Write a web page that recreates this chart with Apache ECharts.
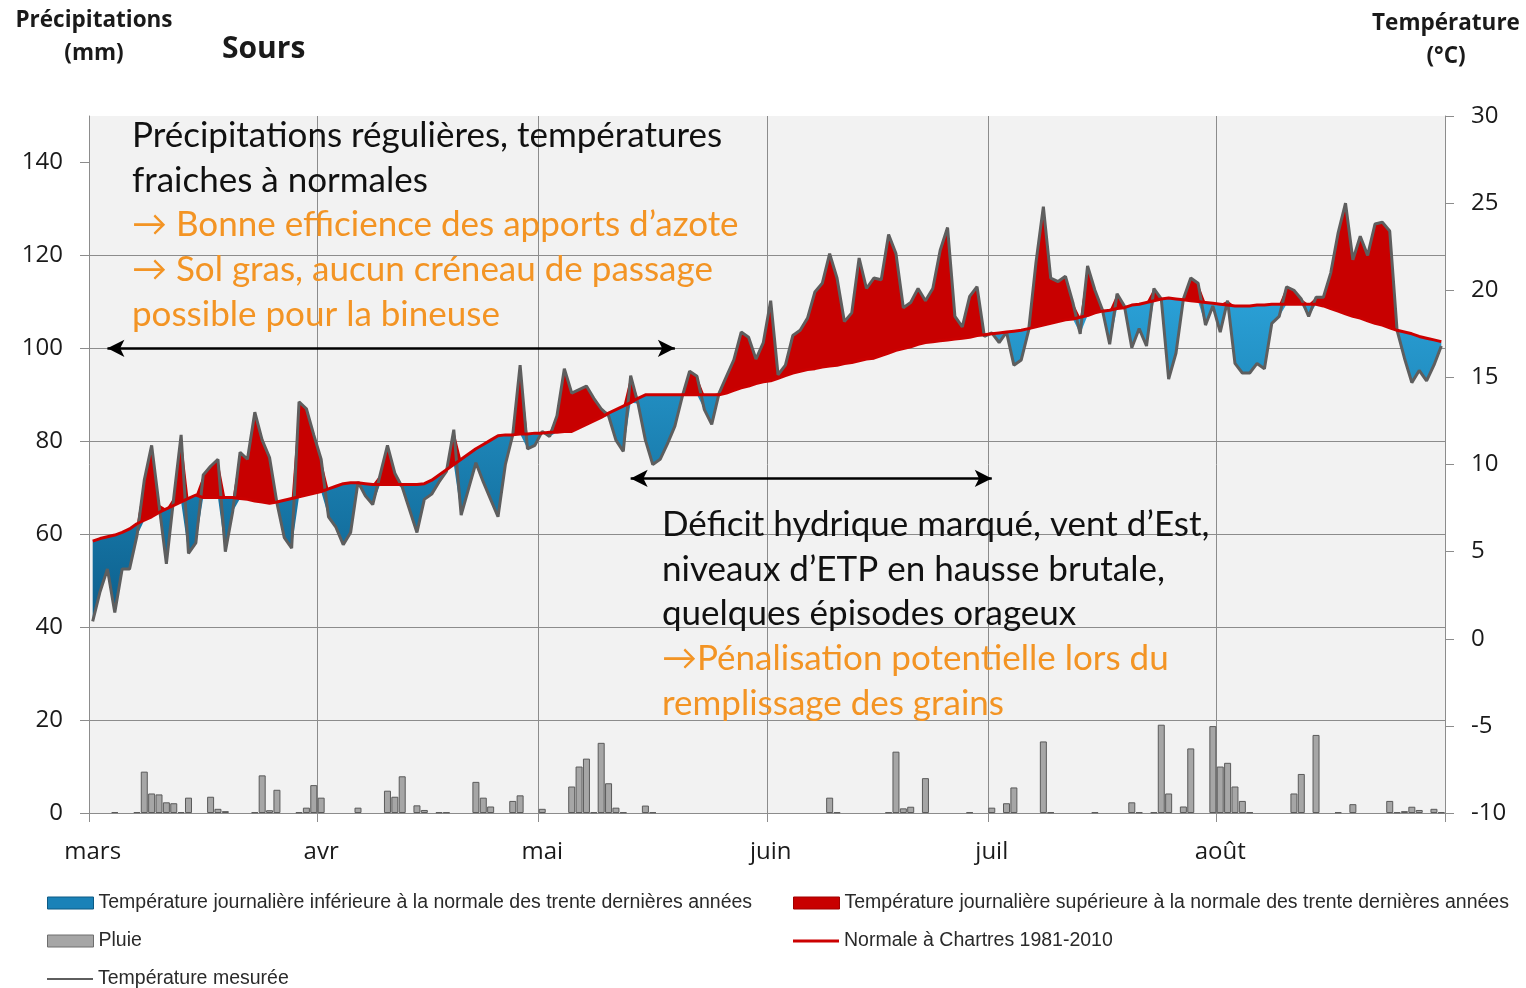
<!DOCTYPE html>
<html>
<head>
<meta charset="utf-8">
<script src="https://cdn.jsdelivr.net/npm/echarts@6/dist/echarts.min.js"></script>
<style>
  html, body { margin: 0; padding: 0; background: #ffffff; }
  #chart { width: 1526px; height: 988px; }
</style>
</head>
<body>
<div id="chart"></div>
<script>
// Day index 0 = 1 March, 183 = 31 August
const monthStarts = [0, 31, 61, 92, 122, 153];
const monthLabels = ['mars', 'avr', 'mai', 'juin', 'juil', 'août'];
const dayCount = 184;
const precipTicks = [0, 20, 40, 60, 80, 100, 120, 140];

// Daily measured mean temperature (°C)
const measured = [
  1.0, 2.7, 4.0, 1.5, 4.0, 4.0, 5.9, 9.1, 11.1, 7.7,
  4.3, 8.1, 11.7, 4.9, 5.5, 9.4, 9.9, 10.3, 5.0, 7.3,
  10.7, 10.3, 13.0, 11.4, 10.4, 7.8, 5.8, 5.2, 13.6, 13.2,
  11.7, 10.3, 7.0, 6.4, 5.4, 6.1, 9.0, 8.2, 7.7, 9.4,
  11.1, 9.5, 8.7, 7.4, 6.1, 8.0, 8.3, 9.0, 9.6, 12.0,
  7.1, 8.6, 10.1, 9.0, 8.0, 7.0, 10.0, 11.7, 15.7, 10.9,
  11.1, 11.9, 11.6, 12.8, 15.5, 14.1, 14.3, 14.5, 13.8, 13.2,
  12.8, 11.4, 10.75, 15.1, 13.5, 11.4, 10.0, 10.3, 11.2, 12.2,
  13.9, 15.35, 15.06, 13.15, 12.3, 14.1, 15.06, 16.0, 17.6, 17.3,
  16.05, 17.0, 19.4, 15.15, 15.7, 17.4, 17.7, 18.4, 19.9, 20.4,
  22.1, 20.7, 18.2, 18.7, 21.85, 20.1, 20.7, 20.6, 23.2, 22.1,
  19.0, 19.3, 20.1, 19.4, 20.1, 22.3, 23.6, 18.5, 17.9, 19.65,
  20.2, 17.35, 17.55, 17.0, 17.6, 15.7, 16.0, 17.7, 21.6, 24.8,
  20.7, 20.5, 20.8, 19.3, 17.5, 21.4, 20.0, 18.9, 16.9, 19.8,
  19.1, 16.7, 17.8, 16.8, 20.1, 19.5, 14.9, 16.4, 19.5, 20.7,
  20.4, 18.0, 19.1, 17.6, 19.4, 15.8, 15.25, 15.25, 15.8, 15.5,
  18.1, 18.5, 20.2, 20.0, 19.5, 18.5, 19.6, 19.6, 21.0, 23.3,
  25.0, 21.75, 23.1, 22.0, 23.8, 23.9, 23.4, 17.7, 16.1, 14.7,
  15.4, 14.8, 15.7, 16.8
];

// Daily normal temperature, Chartres 1981-2010 (°C)
const normal = [
  5.6, 5.75, 5.85, 5.95, 6.1, 6.3, 6.6, 6.8, 7.0, 7.25,
  7.45, 7.65, 7.85, 8.05, 8.25, 8.1, 8.1, 8.1, 8.1, 8.1,
  8.05, 8.0, 7.9, 7.85, 7.77, 7.85, 7.95, 8.05, 8.15, 8.25,
  8.35, 8.45, 8.6, 8.75, 8.9, 8.95, 8.95, 8.9, 8.85, 8.85,
  8.85, 8.85, 8.85, 8.85, 8.85, 8.9, 9.1, 9.4, 9.7, 10.0,
  10.3, 10.6, 10.9, 11.15, 11.4, 11.65, 11.7, 11.7, 11.75, 11.75,
  11.8, 11.8, 11.85, 11.85, 11.9, 11.9, 12.1, 12.3, 12.5, 12.7,
  12.95, 13.15, 13.35, 13.55, 13.8, 14.0, 14.0, 14.0, 14.0, 14.0,
  14.0, 14.0, 14.0, 14.0, 14.0, 14.0, 14.1, 14.25, 14.4, 14.5,
  14.65, 14.75, 14.8, 14.95, 15.1, 15.25, 15.35, 15.45, 15.5, 15.6,
  15.65, 15.7, 15.8, 15.85, 15.95, 16.05, 16.1, 16.25, 16.4, 16.55,
  16.65, 16.75, 16.9, 17.0, 17.05, 17.1, 17.15, 17.2, 17.25, 17.3,
  17.4, 17.45, 17.5, 17.55, 17.6, 17.65, 17.7, 17.8, 17.9, 18.0,
  18.1, 18.2, 18.3, 18.35, 18.45, 18.55, 18.7, 18.8, 18.85, 18.95,
  19.0, 19.15, 19.2, 19.3, 19.4, 19.5, 19.55, 19.5, 19.45, 19.4,
  19.35, 19.3, 19.25, 19.2, 19.15, 19.1, 19.1, 19.1, 19.15, 19.15,
  19.2, 19.2, 19.2, 19.2, 19.2, 19.2, 19.2, 19.1, 18.95, 18.8,
  18.65, 18.5, 18.4, 18.25, 18.1, 18.0, 17.85, 17.7, 17.6, 17.5,
  17.35, 17.25, 17.15, 17.05
];

// Daily rainfall (mm)
const rain = [
  0, 0, 0, 0.2, 0, 0, 0.2, 8.9, 4.2, 4.0,
  2.3, 2.1, 0.2, 3.3, 0, 0, 3.5, 0.9, 0.4, 0,
  0, 0, 0.15, 8.1, 0.6, 5.0, 0, 0, 0.15, 1.15,
  6.0, 3.3, 0, 0, 0, 0, 1.15, 0, 0, 0,
  4.8, 3.5, 7.9, 0, 1.65, 0.65, 0, 0.15, 0.15, 0,
  0, 0, 6.7, 3.3, 1.4, 0, 0, 2.6, 3.8, 0,
  0, 0.9, 0, 0, 0, 5.7, 10.0, 11.7, 0.15, 15.1,
  6.4, 1.15, 0.15, 0, 0, 1.6, 0.15, 0, 0, 0,
  0, 0, 0, 0, 0, 0, 0, 0, 0, 0,
  0, 0, 0, 0, 0, 0, 0, 0, 0, 0,
  3.3, 0.15, 0, 0, 0, 0, 0, 0, 0.15, 13.2,
  1.0, 1.35, 0, 7.5, 0, 0, 0, 0, 0, 0.15,
  0, 0, 1.15, 0, 2.1, 5.5, 0, 0, 0, 15.4,
  0.15, 0, 0, 0, 0, 0, 0.15, 0, 0, 0,
  0, 2.3, 0.15, 0, 0.15, 19.0, 4.2, 0, 1.4, 13.9,
  0, 0, 18.7, 10.0, 10.8, 5.7, 2.6, 0.15, 0, 0,
  0, 0, 0, 4.2, 8.4, 0, 16.8, 0, 0, 0.15,
  0, 1.9, 0, 0, 0, 0, 2.6, 0.15, 0.4, 1.35,
  0.65, 0, 0.9, 0.15
];

// Periods marked with double arrows: [first day, last day, height in mm]
const periods = [
  [2, 79, 100],
  [73, 122, 72]
];

const nameCool = 'Température journalière inférieure à la normale des trente dernières années';
const nameWarm = 'Température journalière supérieure à la normale des trente dernières années';
const nameRain = 'Pluie';
const nameNormal = 'Normale à Chartres 1981-2010';
const nameMeasured = 'Température mesurée';

const ORANGE = '#f39424';
const notesTop = [
  ['Précipitations régulières, températures', '#111111'],
  ['fraiches à normales', '#111111'],
  ['\u2192 Bonne efficience des apports d\u2019azote', ORANGE],
  ['\u2192 Sol gras, aucun créneau de passage', ORANGE],
  ['possible pour la bineuse', ORANGE]
];
const notesBottom = [
  ['Déficit hydrique marqué, vent d\u2019Est,', '#111111'],
  ['niveaux d\u2019ETP en hausse brutale,', '#111111'],
  ['quelques épisodes orageux', '#111111'],
  ['\u2192Pénalisation potentielle lors du', ORANGE],
  ['remplissage des grains', ORANGE]
];

// Category per day, labelled by month at each month start
const days = [];
for (let d = 0; d < dayCount; d++) {
  let m = 0;
  while (m + 1 < monthStarts.length && d >= monthStarts[m + 1]) m++;
  days.push((d - monthStarts[m] + 1) + ' ' + monthLabels[m]);
}
const isMonthStart = (i) => monthStarts.indexOf(i) >= 0;

// Stacked layers: invisible floor, then the gap below or above the normal
const lowerEnvelope = measured.map((t, d) => Math.min(t, normal[d]));
const coolGap = measured.map((t, d) => Math.max(normal[d] - t, 0));
const warmGap = measured.map((t, d) => Math.max(t - normal[d], 0));
const rainBars = rain.map(v => (v > 0 ? v : '-'));

const FONT = 'Lato, "Open Sans", sans-serif';
const AXIS_FONT = '"Open Sans", Lato, sans-serif';
const LEGEND_FONT = '"Liberation Sans", Arial, sans-serif';
const GRID_COLOR = '#8c8c8c';

const chart = echarts.init(document.getElementById('chart'), null, { renderer: 'canvas' });

const textGraphics = [];
notesTop.forEach((n, i) => {
  textGraphics.push({
    type: 'text', x: 132, y: 135.5 + i * 44.8, z: 20,
    style: { text: n[0], fill: n[1], font: '35px ' + FONT, verticalAlign: 'middle', align: 'left' }
  });
});
notesBottom.forEach((n, i) => {
  textGraphics.push({
    type: 'text', x: 662, y: 524.5 + i * 44.8, z: 20,
    style: { text: n[0], fill: n[1], font: '35px ' + FONT, verticalAlign: 'middle', align: 'left' }
  });
});
const TITLE_FONT = 'bold 22.5px "Open Sans", Lato, sans-serif';
textGraphics.push(
  { type: 'text', x: 94, y: 21, style: { text: 'Précipitations', fill: '#1a1a1a', font: TITLE_FONT, align: 'center', verticalAlign: 'middle' } },
  { type: 'text', x: 94, y: 54, style: { text: '(mm)', fill: '#1a1a1a', font: TITLE_FONT, align: 'center', verticalAlign: 'middle' } },
  { type: 'text', x: 222, y: 49, style: { text: 'Sours', fill: '#1a1a1a', font: 'bold 30px "Open Sans", Lato, sans-serif', align: 'left', verticalAlign: 'middle' } },
  { type: 'text', x: 1446, y: 24, style: { text: 'Température', fill: '#1a1a1a', font: TITLE_FONT, align: 'center', verticalAlign: 'middle' } },
  { type: 'text', x: 1446, y: 57, style: { text: '(°C)', fill: '#1a1a1a', font: TITLE_FONT, align: 'center', verticalAlign: 'middle' } }
);

const legendBase = {
  orient: 'horizontal', padding: 0, itemGap: 0, itemWidth: 46, itemHeight: 12,
  selectedMode: false,
  textStyle: { fontFamily: LEGEND_FONT, fontSize: 19.5, color: '#2a2a2a' }
};

const blueFill = new echarts.graphic.LinearGradient(0, 0, 0, 1, [
  { offset: 0, color: '#2aa0d6' },
  { offset: 1, color: '#0c5f8c' }
]);

chart.setOption({
  animation: false,
  backgroundColor: '#ffffff',
  grid: {
    left: 89, right: 81, top: 116, bottom: 175,
    show: true, backgroundColor: '#f2f2f2', borderWidth: 0
  },
  xAxis: {
    type: 'category', data: days, boundaryGap: true,
    axisLine: { show: true, lineStyle: { color: GRID_COLOR, width: 1 } },
    axisTick: { show: true, length: 9, interval: (i) => isMonthStart(i), lineStyle: { color: GRID_COLOR } },
    axisLabel: {
      interval: (i) => isMonthStart(i), margin: 27,
      fontFamily: AXIS_FONT, fontSize: 24, color: '#1a1a1a',
      formatter: (v, i) => monthLabels[monthStarts.indexOf(i)] || ''
    },
    splitLine: { show: true, interval: (i) => isMonthStart(i) && i > 0, lineStyle: { color: GRID_COLOR, width: 1 } }
  },
  yAxis: [
    {
      type: 'value', min: 0, max: 150, interval: 20, position: 'left',
      axisLine: { show: true, lineStyle: { color: GRID_COLOR } },
      axisTick: { show: true, length: 9, customValues: precipTicks, lineStyle: { color: GRID_COLOR } },
      axisLabel: { customValues: precipTicks, margin: 26, fontFamily: AXIS_FONT, fontSize: 24, color: '#1a1a1a', padding: [3, 0, 0, 0] },
      splitLine: { show: true, showMaxLine: false, lineStyle: { color: GRID_COLOR, width: 1 } }
    },
    {
      type: 'value', min: -10, max: 30, interval: 5, position: 'right',
      axisLine: { show: true, lineStyle: { color: GRID_COLOR } },
      axisTick: { show: true, length: 9, lineStyle: { color: GRID_COLOR } },
      axisLabel: { margin: 26, fontFamily: AXIS_FONT, fontSize: 24, color: '#1a1a1a', padding: [3, 0, 0, 0] },
      splitLine: { show: false }
    }
  ],
  legend: [
    Object.assign({}, legendBase, { left: 47, top: 893, data: [{ name: nameCool, icon: 'rect', itemStyle: { color: '#1a82b8', borderColor: '#0d5a84', borderWidth: 1 } }] }),
    Object.assign({}, legendBase, { left: 793, top: 893, data: [{ name: nameWarm, icon: 'rect', itemStyle: { color: '#c80000', borderColor: '#a00000', borderWidth: 1 } }] }),
    Object.assign({}, legendBase, { left: 47, top: 931, data: [{ name: nameRain, icon: 'rect', itemStyle: { color: '#a6a6a6', borderColor: '#6e6e6e', borderWidth: 1 } }] }),
    Object.assign({}, legendBase, { left: 793, top: 931, itemHeight: 3, data: [{ name: nameNormal, icon: 'rect', itemStyle: { color: '#cc0000', borderWidth: 0 } }] }),
    Object.assign({}, legendBase, { left: 47, top: 969, itemHeight: 2, data: [{ name: nameMeasured, icon: 'rect', itemStyle: { color: '#5e5e5e', borderWidth: 0 } }] })
  ],
  graphic: textGraphics,
  series: [
    {
      name: nameRain, type: 'bar', yAxisIndex: 0,
      data: rainBars, barWidth: 7, z: 2,
      itemStyle: { color: '#a6a6a6', borderColor: '#5a5a5a', borderWidth: 1 }
    },
    {
      name: 'plancher', type: 'line', yAxisIndex: 1, stack: 'temp', silent: true,
      data: lowerEnvelope, symbol: 'none', showSymbol: false,
      lineStyle: { opacity: 0, width: 0 }, z: 3
    },
    {
      name: nameCool, type: 'line', yAxisIndex: 1, stack: 'temp', silent: true,
      data: coolGap, symbol: 'none', showSymbol: false,
      lineStyle: { opacity: 0, width: 0 },
      itemStyle: { color: '#1a82b8' },
      areaStyle: { color: blueFill, opacity: 1 }, z: 3
    },
    {
      name: nameWarm, type: 'line', yAxisIndex: 1, stack: 'temp', silent: true,
      data: warmGap, symbol: 'none', showSymbol: false,
      lineStyle: { opacity: 0, width: 0 },
      itemStyle: { color: '#c80000' },
      areaStyle: { color: '#c80000', opacity: 1 }, z: 3
    },
    {
      name: nameMeasured, type: 'line', yAxisIndex: 1, silent: true,
      data: measured, symbol: 'none', showSymbol: false,
      lineStyle: { color: '#5e5e5e', width: 3 },
      itemStyle: { color: '#5e5e5e' }, z: 4
    },
    {
      name: nameNormal, type: 'line', yAxisIndex: 1, silent: true,
      data: normal, symbol: 'none', showSymbol: false,
      lineStyle: { color: '#cc0000', width: 3 },
      itemStyle: { color: '#cc0000' }, z: 5
    },
    {
      name: 'périodes', type: 'line', yAxisIndex: 0, data: [], silent: true,
      markLine: {
        silent: true, z: 10,
        symbol: ['arrow', 'arrow'], symbolSize: [13, 17],
        label: { show: false },
        lineStyle: { color: '#000000', width: 2.5, type: 'solid' },
        data: periods.map(p => [{ coord: [p[0], p[2]] }, { coord: [p[1], p[2]] }])
      }
    }
  ]
});
</script>
</body>
</html>
